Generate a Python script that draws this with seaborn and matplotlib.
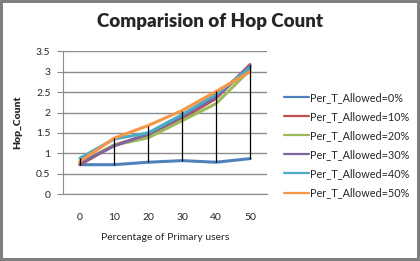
import pandas as pd
import seaborn as sns
import matplotlib.pyplot as plt

# data
primary_users = [0, 10, 20, 30, 40, 50]
series_names = ["Per_T_Allowed=0%", "Per_T_Allowed=10%", "Per_T_Allowed=20%",
                "Per_T_Allowed=30%", "Per_T_Allowed=40%", "Per_T_Allowed=50%"]
allowed_0 = [0.72, 0.72, 0.78, 0.82, 0.78, 0.87]
allowed_10 = [0.72, 1.20, 1.45, 1.85, 2.35, 3.18]
allowed_20 = [0.78, 1.20, 1.38, 1.80, 2.22, 3.05]
allowed_30 = [0.75, 1.18, 1.47, 1.90, 2.38, 3.15]
allowed_40 = [0.88, 1.35, 1.50, 1.95, 2.45, 3.10]
allowed_50 = [0.80, 1.37, 1.68, 2.05, 2.52, 3.00]
colors = ["#4F81BD", "#C0504D", "#9BBB59", "#8064A2", "#4BACC6", "#F79646"]

rows = []
for name, vals in zip(series_names, [allowed_0, allowed_10, allowed_20,
                                      allowed_30, allowed_40, allowed_50]):
    for x, v in zip(primary_users, vals):
        rows.append({"users": x, "hop": v, "series": name})
df = pd.DataFrame(rows)

sns.set_style("white")
plt.rcParams['font.family'] = ['Lato', 'DejaVu Sans']

fig = plt.figure(figsize=(4.2, 2.61), dpi=100)
fig.patch.set_edgecolor("#808080")
fig.patch.set_linewidth(4)
ax = fig.add_axes([0.15, 0.2567, 0.486, 0.546])

sns.lineplot(data=df, x="users", y="hop", hue="series", palette=colors,
             linewidth=2.2, ax=ax, legend=False, zorder=2)

# high-low lines
span = df.groupby("users")["hop"].agg(["min", "max"])
ax.vlines(span.index, span["min"], span["max"], color="black", linewidth=0.9, zorder=3)

ax.set_xlim(-5, 55)
ax.set_ylim(0, 3.5)
ax.set_xticks(primary_users)
ax.set_yticks([0, 0.5, 1, 1.5, 2, 2.5, 3, 3.5])
ax.set_yticklabels(["0", "0.5", "1", "1.5", "2", "2.5", "3", "3.5"])
ax.yaxis.grid(True, color="#8c8c8c", linewidth=1.0)
for s in ["top", "right"]:
    ax.spines[s].set_visible(False)
ax.spines["left"].set_color("#8c8c8c")
ax.spines["bottom"].set_color("#8c8c8c")
ax.tick_params(axis="y", left=True, length=4, color="#8c8c8c", labelsize=7.5, pad=5)
ax.tick_params(axis="x", bottom=False, labelsize=7.5, pad=10)

ax.set_xlabel("Percentage of Primary users", fontsize=7.5, labelpad=8)
ax.set_ylabel("Hop_Count", fontsize=7.5, fontweight="heavy", labelpad=10)
fig.text(0.5, 0.895, "Comparision of Hop Count", fontsize=13.5,
         fontweight="heavy", ha="center")

handles = [plt.Line2D([], [], color=c, linewidth=1.6) for c in colors]
fig.legend(handles, series_names, loc="upper left", bbox_to_anchor=(0.665, 0.665),
           frameon=False, fontsize=7.8, handlelength=2.3, handletextpad=0.1,
           labelspacing=0.75, borderaxespad=0)

fig.savefig("out.png", dpi=100)
